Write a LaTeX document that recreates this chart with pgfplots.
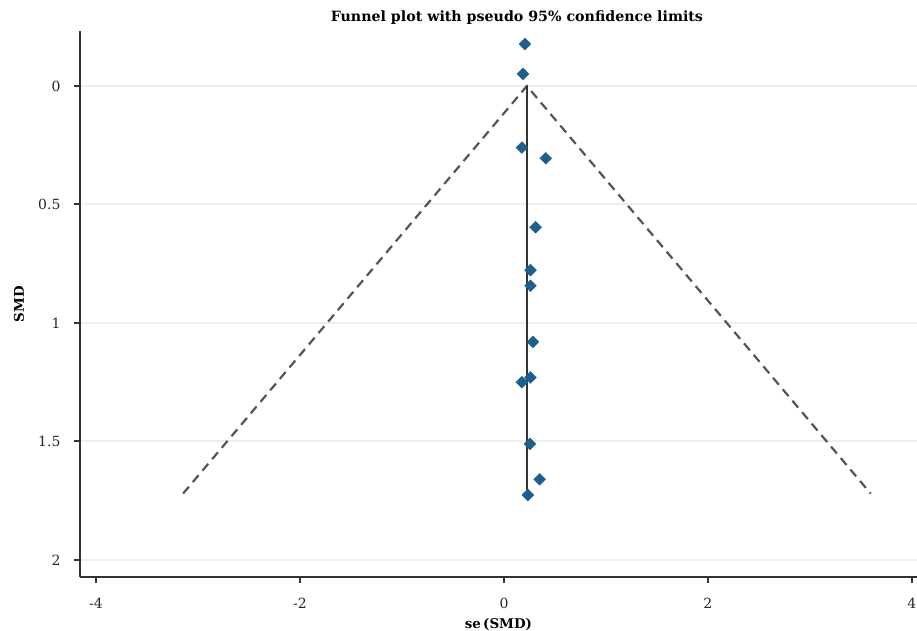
\documentclass[border=0pt]{standalone}
\usepackage{fontspec}
\setmainfont{DejaVu Serif}
\usepackage{pgfplots}
\pgfplotsset{compat=1.18}
\definecolor{axisgray}{HTML}{333333}
\definecolor{dashgray}{HTML}{555555}
\definecolor{gridblue}{HTML}{E8EFF5}
\definecolor{markblue}{HTML}{1F5F8C}

\begin{document}
\begin{tikzpicture}
\begin{axis}[
  name=ax,
  scale only axis,
  width=837pt, height=546pt,
  xmin=-4.157, xmax=4.05,
  ymin=-0.232, ymax=2.072,
  y dir=reverse,
  axis x line*=bottom, axis y line*=left,
  axis line style={line width=2.5pt, axisgray, -},
  xtick={-4,-2,0,2,4}, xticklabels={-4,-2,0,2,4},
  ytick={0,0.5,1,1.5,2}, yticklabels={0,0.5,1,1.5,2},
  tick align=outside, major tick length=6pt,
  tick style={line width=2pt, axisgray},
  ymajorgrids, grid style={line width=2pt, gridblue},
  ticklabel style={font=\fontsize{14}{16}\selectfont, text=black!85},
  xticklabel style={yshift=-12pt},
  yticklabel style={xshift=-10pt},
  title={Funnel plot with pseudo 95\% confidence limits},
  title style={font=\bfseries\fontsize{14.2}{16}\selectfont,
    at={(axis description cs:0.522,1)}, anchor=base, yshift=3pt},
  xlabel={se\,(SMD)}, ylabel={SMD},
  label style={font=\bfseries\fontsize{13.4}{15}\selectfont},
  xlabel style={at={(axis description cs:0.5,0)}, anchor=base, yshift=-51pt},
  ylabel style={at={(axis description cs:-0.0729,0.5)}, anchor=center},
  clip=false,
]
% pseudo 95% limits
\addplot[dashgray, line width=2.2pt, dash pattern=on 9pt off 6pt]
  coordinates {(-3.146,1.72) (0.225,0) (3.596,1.72)};
% pooled estimate
\addplot[axisgray, line width=2.5pt] coordinates {(0.225,0) (0.225,1.72)};
% studies
\addplot[only marks, mark=square*, mark size=4.2pt,
  mark options={rotate=45, fill=markblue, draw=markblue}] coordinates {
  (0.206,-0.177)
  (0.186,-0.051)
  (0.176,0.26)
  (0.41,0.305)
  (0.31,0.596)
  (0.26,0.777)
  (0.26,0.843)
  (0.285,1.08)
  (0.26,1.23)
  (0.176,1.25)
  (0.255,1.51)
  (0.35,1.66)
  (0.235,1.726)
};
\end{axis}
\pgfresetboundingbox
\path[use as bounding box] ([shift={(-80pt,-54pt)}]ax.south west)
  rectangle ([shift={(0pt,31pt)}]ax.north east);
\end{tikzpicture}
\end{document}
